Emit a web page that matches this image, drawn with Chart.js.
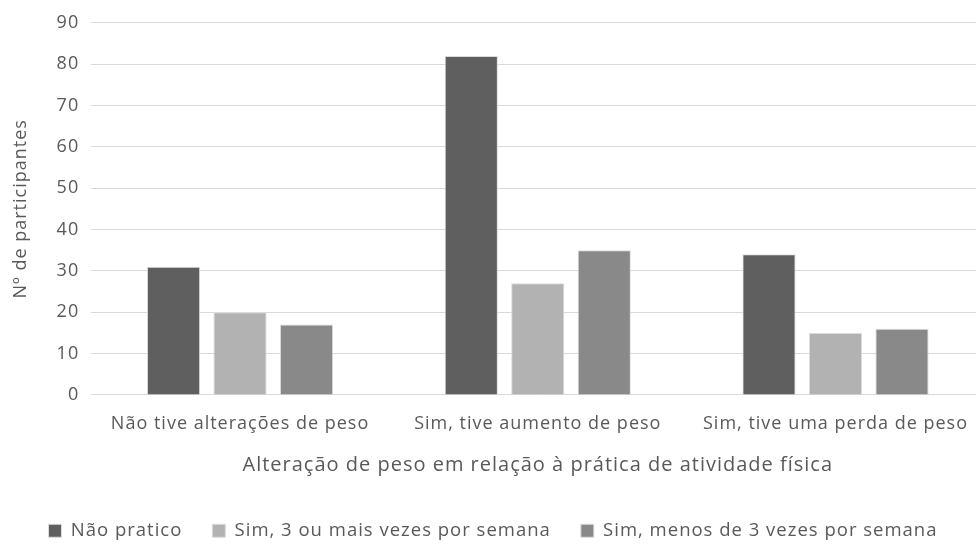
<!DOCTYPE html>
<html>
<head>
<meta charset="utf-8">
<script src="https://cdn.jsdelivr.net/npm/chart.js@4"></script>
<style>
  html, body { margin: 0; padding: 0; background: #ffffff; overflow: hidden; }
  #wrap { width: 976px; height: 545px; overflow: hidden; }
  #c { display: block; }
</style>
</head>
<body>
<div id="wrap"><canvas id="c" width="986" height="545"></canvas></div>
<script>
const categories = ["Não tive alterações de peso", "Sim, tive aumento de peso", "Sim, tive uma perda de peso"];
const seriesNames = ["Não pratico", "Sim, 3 ou mais vezes por semana", "Sim, menos de 3 vezes por semana"];
const naoPratico = [31, 82, 34];
const tresOuMais = [20, 27, 15];
const menosDeTres = [17, 35, 16];
const yTicks = [0, 10, 20, 30, 40, 50, 60, 70, 80, 90];
const xTitle = "Alteração de peso em relação à prática de atividade física";
const yTitle = "Nº de participantes";

const colors = ["#5f5f5f", "#b2b2b2", "#898989"];
const textColor = "#595959";
const fontFamily = "'Open Sans', 'Noto Sans', sans-serif";

const seriesValues = [naoPratico, tresOuMais, menosDeTres];

const spacingPlugin = {
  id: 'spacing',
  beforeUpdate(chart) { chart.ctx.letterSpacing = '1px'; },
  beforeLayout(chart) { chart.ctx.letterSpacing = '1px'; },
  beforeDraw(chart) { chart.ctx.letterSpacing = '1px'; }
};

new Chart(document.getElementById('c'), {
  type: 'bar',
  plugins: [spacingPlugin],
  data: {
    labels: categories,
    datasets: seriesNames.map((name, i) => ({
      label: name,
      data: seriesValues[i],
      backgroundColor: colors[i],
      borderColor: "#dcdcdc",
      borderWidth: 1,
      categoryPercentage: 0.67,
      barPercentage: 0.8
    }))
  },
  options: {
    responsive: false,
    animation: false,
    devicePixelRatio: 1,
    layout: { padding: { top: 21, right: 0, left: 0, bottom: -5 } },
    plugins: {
      legend: {
        position: 'bottom',
        labels: {
          color: textColor,
          font: { family: fontFamily, size: 18.5 },
          boxWidth: 13,
          boxHeight: 13,
          padding: 30
        }
      },
      tooltip: { enabled: false }
    },
    scales: {
      x: {
        grid: { display: false, drawTicks: false },
        border: { display: false },
        ticks: { color: textColor, font: { family: fontFamily, size: 18 }, padding: 18, maxRotation: 0, autoSkip: false },
        title: { display: true, text: xTitle, color: textColor, font: { family: fontFamily, size: 20 }, padding: { top: 1, bottom: 14 } }
      },
      y: {
        min: 0,
        max: 90,
        afterBuildTicks: (axis) => { axis.ticks = yTicks.map(v => ({ value: v })); },
        grid: { color: "#d9d9d9", lineWidth: 1, drawTicks: false },
        border: { display: false },
        ticks: { color: textColor, font: { family: fontFamily, size: 18 }, padding: 12 },
        title: { display: true, text: yTitle, color: textColor, font: { family: fontFamily, size: 18 }, padding: { top: 10, bottom: 13 } }
      }
    }
  }
});
</script>
</body>
</html>
